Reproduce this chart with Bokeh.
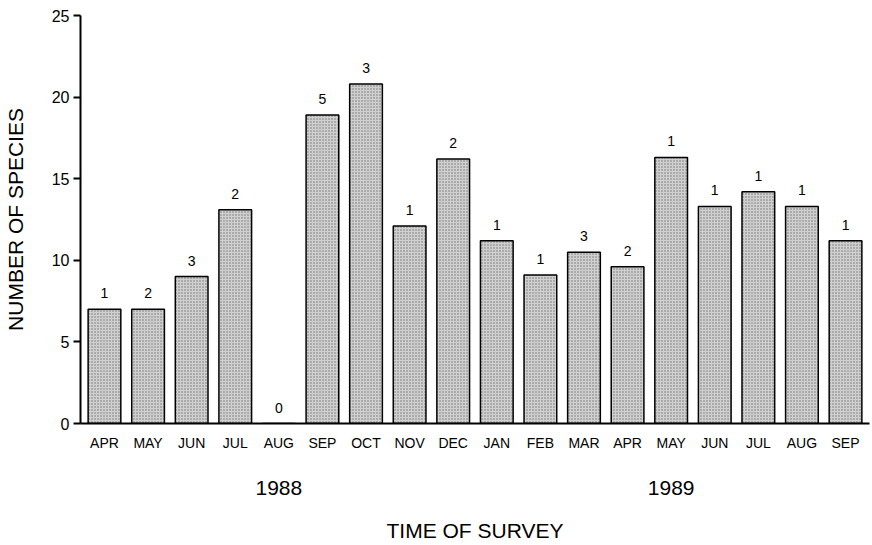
from bokeh.plotting import figure
from bokeh.models import (ColumnDataSource, Range1d, FixedTicker, LinearAxis,
                          LabelSet)
from bokeh.core.properties import value
from bokeh.embed import file_html
from bokeh.resources import INLINE

# ---- data ----
months = ["APR", "MAY", "JUN", "JUL", "AUG", "SEP", "OCT", "NOV", "DEC",
          "JAN", "FEB", "MAR", "APR", "MAY", "JUN", "JUL", "AUG", "SEP"]
years = ["1988"] * 9 + ["1989"] * 9
species = [7.0, 7.0, 9.0, 13.1, 0.0, 18.9, 20.8, 12.1, 16.2,
           11.2, 9.1, 10.5, 9.6, 16.3, 13.3, 14.2, 13.3, 11.2]
counts = [1, 2, 3, 2, 0, 5, 3, 1, 2, 1, 1, 3, 2, 1, 1, 1, 1, 1]
year_labels = ["1988", "1989"]
y_ticks = [0, 5, 10, 15, 20, 25]

FONT = "Liberation Sans"

idx = list(range(len(months)))
src = ColumnDataSource(dict(x=idx, top=species, lbl=[str(c) for c in counts]))

p = figure(width=870, height=544, output_backend="svg", toolbar_location=None,
           x_range=Range1d(-0.55, len(months) - 0.45), y_range=Range1d(0, 25),
           min_border_left=79, min_border_right=1, min_border_top=15,
           min_border_bottom=121)
p.outline_line_color = None
p.grid.visible = False
p.background_fill_color = "white"

p.vbar(x="x", top="top", bottom=0, width=0.75, source=src,
       fill_color="#d0d0d0", line_color="black", line_width=1.5,
       hatch_pattern="dot", hatch_color="#222222", hatch_alpha=0.55,
       hatch_scale=3, hatch_weight=1)

labels = LabelSet(x="x", y="top", text="lbl", source=src, y_offset=11,
                  text_align="center", text_baseline="bottom",
                  text_font=value(FONT), text_font_size=value("14px"),
                  text_color=value("black"))
p.add_layout(labels)

# month axis
xa = p.xaxis[0]
xa.ticker = FixedTicker(ticks=idx)
xa.major_label_overrides = {i: m for i, m in zip(idx, months)}
xa.major_tick_line_color = None
xa.minor_tick_line_color = None
xa.axis_line_width = 2
xa.axis_line_color = "black"
xa.major_label_standoff = 5
xa.major_label_text_font = FONT
xa.major_label_text_font_size = "14px"
xa.major_label_text_color = "black"

# year axis
year_pos = []
for y in year_labels:
    members = [i for i, yy in zip(idx, years) if yy == y]
    year_pos.append((members[0] + members[-1]) / 2)
ya2 = LinearAxis(ticker=FixedTicker(ticks=year_pos),
                 major_label_overrides={pos: y for pos, y in zip(year_pos, year_labels)})
ya2.axis_line_color = None
ya2.major_tick_line_color = None
ya2.minor_tick_line_color = None
ya2.major_label_standoff = 21
ya2.major_label_text_font = FONT
ya2.major_label_text_font_size = "21px"
ya2.major_label_text_color = "black"
ya2.axis_label = "TIME OF SURVEY"
ya2.axis_label_standoff = 21
ya2.axis_label_text_font = FONT
ya2.axis_label_text_font_size = "21px"
ya2.axis_label_text_font_style = "normal"
ya2.axis_label_text_color = "black"
p.add_layout(ya2, "below")

# y axis
yax = p.yaxis[0]
yax.ticker = FixedTicker(ticks=y_ticks)
yax.minor_tick_line_color = None
yax.axis_line_width = 2
yax.axis_line_color = "black"
yax.major_tick_line_width = 2
yax.major_tick_out = 7
yax.major_tick_in = 0
yax.major_label_standoff = 4
yax.major_label_text_font = FONT
yax.major_label_text_font_size = "16px"
yax.major_label_text_color = "black"
yax.axis_label = "NUMBER OF SPECIES"
yax.axis_label_standoff = 22
yax.axis_label_text_font = FONT
yax.axis_label_text_font_size = "21px"
yax.axis_label_text_font_style = "normal"
yax.axis_label_text_color = "black"

open("out.html", "w").write(file_html(p, INLINE))
